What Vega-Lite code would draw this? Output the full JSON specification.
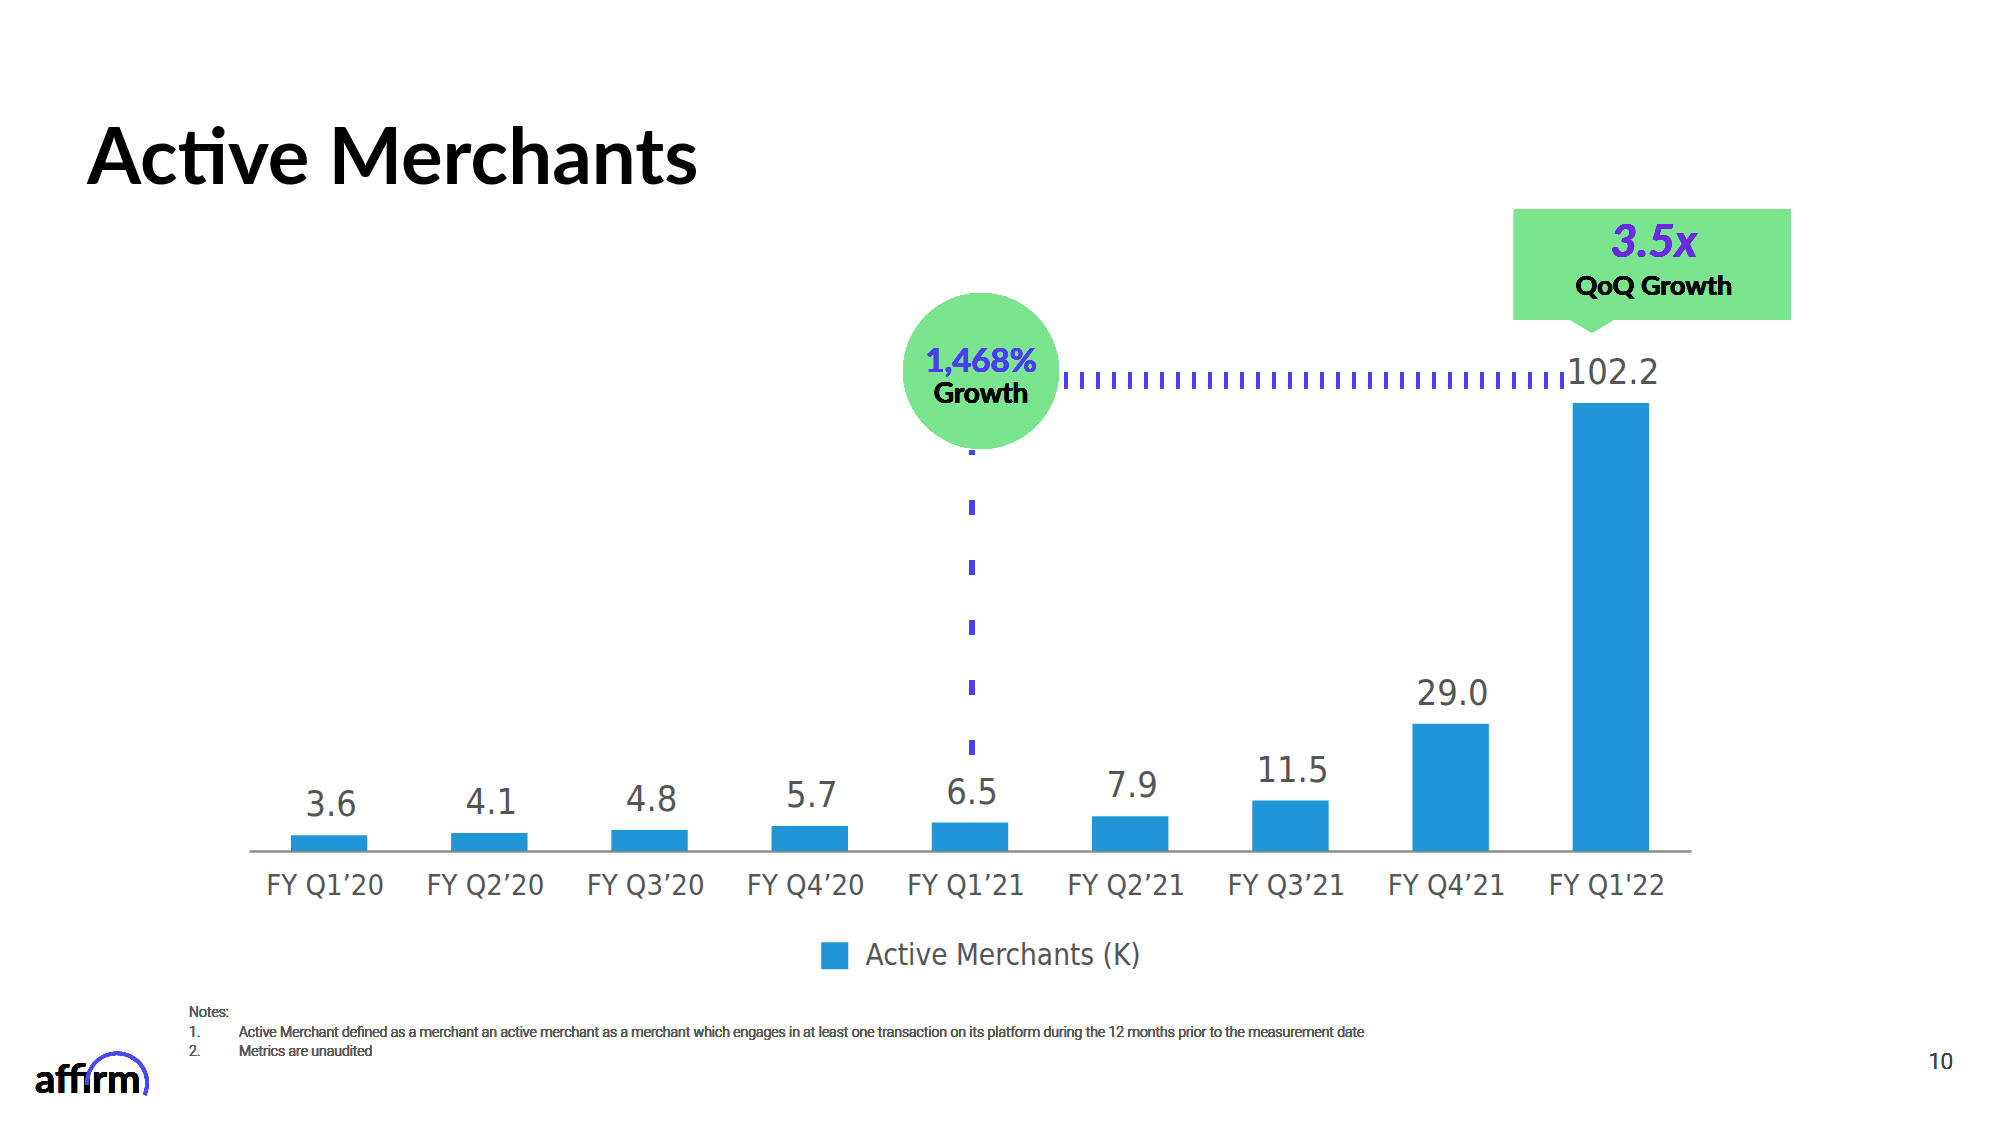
{
  "$schema": "https://vega.github.io/schema/vega-lite/v6.json",
  "width": 1442,
  "height": 651,
  "autosize": {"type": "none"},
  "padding": {"left": 249, "right": 309, "top": 200, "bottom": 274},
  "background": "#ffffff",
  "config": {"view": {"stroke": null}},
  "title": {
    "text": "Active Merchants",
    "anchor": "start",
    "frame": "group",
    "orient": "top",
    "dx": -162,
    "offset": -62,
    "baseline": "alphabetic",
    "font": "Lato",
    "fontSize": 78,
    "fontWeight": "bold",
    "color": "#000000"
  },
  "data": {
    "values": [
      {"quarter": "FY Q1’20", "merchants": 3.6},
      {"quarter": "FY Q2’20", "merchants": 4.1},
      {"quarter": "FY Q3’20", "merchants": 4.8},
      {"quarter": "FY Q4’20", "merchants": 5.7},
      {"quarter": "FY Q1’21", "merchants": 6.5},
      {"quarter": "FY Q2’21", "merchants": 7.9},
      {"quarter": "FY Q3’21", "merchants": 11.5},
      {"quarter": "FY Q4’21", "merchants": 29.0},
      {"quarter": "FY Q1'22", "merchants": 102.2}
    ]
  },
  "encoding": {
    "x": {
      "field": "quarter",
      "type": "nominal",
      "sort": null,
      "scale": {"paddingInner": 0.523, "paddingOuter": 0.2615},
      "axis": {
        "title": null,
        "labelAngle": 0,
        "ticks": false,
        "labelFont": "DejaVu Sans Condensed",
        "labelFontSize": 29,
        "labelColor": "#555555",
        "labelPadding": 20,
        "labelOffset": -4,
        "domainColor": "#8c8c8c",
        "domainWidth": 2.5,
        "grid": false
      }
    },
    "y": {
      "type": "quantitative",
      "scale": {"domain": [0, 148.5], "nice": false, "zero": false},
      "axis": null
    }
  },
  "layer": [
    {
      "mark": {"type": "bar"},
      "encoding": {
        "y": {"field": "merchants", "type": "quantitative"},
        "color": {
          "datum": "Active Merchants (K)",
          "type": "nominal",
          "scale": {"range": ["#2196d6"]},
          "legend": {
            "title": null,
            "orient": "none",
            "legendX": 571,
            "legendY": 741,
            "padding": 0,
            "symbolType": "square",
            "symbolSize": 729,
            "symbolStrokeWidth": 0,
            "labelFont": "DejaVu Sans Condensed",
            "labelFontSize": 29.5,
            "labelColor": "#555555",
            "labelOffset": 16,
            "labelLimit": 0
          }
        }
      }
    },
    {
      "mark": {"type": "text", "dy": -19, "dx": 2, "baseline": "alphabetic", "font": "DejaVu Sans Condensed", "fontSize": 36, "color": "#555555"},
      "encoding": {
        "y": {"field": "merchants", "type": "quantitative"},
        "text": {"field": "merchants", "type": "quantitative", "format": ".1f"}
      }
    },
    {
      "mark": {"type": "rule", "stroke": "#4b3ff2", "strokeWidth": 5, "strokeDash": [15, 45], "xOffset": 2},
      "encoding": {
        "x": {"datum": "FY Q1’21"},
        "y": {"datum": 21.9},
        "y2": {"datum": 91.5}
      }
    },
    {
      "mark": {"type": "rule", "stroke": "#4b3ff2", "strokeWidth": 16, "strokeDash": [4, 12], "xOffset": 94, "x2Offset": -38},
      "encoding": {
        "x": {"datum": "FY Q1’21"},
        "x2": {"datum": "FY Q1'22"},
        "y": {"datum": 107.4}
      }
    },
    {
      "mark": {"type": "point", "shape": "circle", "filled": true, "fill": "#7ae58e", "opacity": 1, "size": 24300, "strokeWidth": 0, "xOffset": 11},
      "encoding": {
        "x": {"datum": "FY Q1’21"},
        "y": {"datum": 109.5}
      }
    },
    {
      "mark": {"type": "text", "text": "1,468%", "font": "Lato", "fontWeight": "bold", "fontSize": 33, "color": "#4a3ff0", "baseline": "alphabetic", "dx": 11},
      "encoding": {
        "x": {"datum": "FY Q1’21"},
        "y": {"datum": 109.3}
      }
    },
    {
      "mark": {"type": "text", "text": "Growth", "font": "Lato", "fontWeight": "bold", "fontSize": 28, "color": "#000000", "baseline": "alphabetic", "dx": 11},
      "encoding": {
        "x": {"datum": "FY Q1’21"},
        "y": {"datum": 102.2}
      }
    },
    {
      "mark": {"type": "bar", "width": 277, "xOffset": 41.5, "color": "#7ae58e"},
      "encoding": {
        "x": {"datum": "FY Q1'22"},
        "y": {"datum": 146.4},
        "y2": {"datum": 121.1}
      }
    },
    {
      "mark": {"type": "point", "shape": "M-1,-0.6L1,-0.6L0,0Z", "filled": true, "fill": "#7ae58e", "opacity": 1, "size": 4900, "strokeWidth": 0, "xOffset": -19},
      "encoding": {
        "x": {"datum": "FY Q1'22"},
        "y": {"datum": 118.2}
      }
    },
    {
      "mark": {"type": "text", "text": "3.5x", "font": "Lato", "fontWeight": "bold", "fontStyle": "italic", "fontSize": 46, "color": "#6a2be0", "baseline": "alphabetic", "dx": 43},
      "encoding": {
        "x": {"datum": "FY Q1'22"},
        "y": {"datum": 135.6}
      }
    },
    {
      "mark": {"type": "text", "text": "QoQ Growth", "font": "Lato", "fontWeight": "bold", "fontSize": 27, "color": "#000000", "baseline": "alphabetic", "dx": 43},
      "encoding": {
        "x": {"datum": "FY Q1'22"},
        "y": {"datum": 126.9}
      }
    },
    {
      "mark": {"type": "text", "text": "Notes:", "font": "Roboto", "fontWeight": 300, "fontSize": 14, "color": "#595959", "align": "left", "baseline": "alphabetic", "dx": -140},
      "encoding": {
        "x": {"datum": "FY Q1’20"},
        "y": {"datum": -37.9}
      }
    },
    {
      "mark": {"type": "text", "text": "1.", "font": "Roboto", "fontWeight": 300, "fontSize": 14, "color": "#595959", "align": "left", "baseline": "alphabetic", "dx": -140},
      "encoding": {
        "x": {"datum": "FY Q1’20"},
        "y": {"datum": -42.4}
      }
    },
    {
      "mark": {"type": "text", "text": "Active Merchant defined as a merchant an active merchant as a merchant which engages in at least one transaction on its platform during the 12 months prior to the measurement date", "font": "Roboto", "fontWeight": 300, "fontSize": 14, "color": "#595959", "align": "left", "baseline": "alphabetic", "dx": -90},
      "encoding": {
        "x": {"datum": "FY Q1’20"},
        "y": {"datum": -42.4}
      }
    },
    {
      "mark": {"type": "text", "text": "2.", "font": "Roboto", "fontWeight": 300, "fontSize": 14, "color": "#595959", "align": "left", "baseline": "alphabetic", "dx": -140},
      "encoding": {
        "x": {"datum": "FY Q1’20"},
        "y": {"datum": -46.8}
      }
    },
    {
      "mark": {"type": "text", "text": "Metrics are unaudited", "font": "Roboto", "fontWeight": 300, "fontSize": 14, "color": "#595959", "align": "left", "baseline": "alphabetic", "dx": -90},
      "encoding": {
        "x": {"datum": "FY Q1’20"},
        "y": {"datum": -46.8}
      }
    },
    {
      "mark": {"type": "text", "text": "10", "font": "Roboto", "fontWeight": 300, "fontSize": 22, "color": "#444444", "align": "right", "baseline": "alphabetic", "dx": 342},
      "encoding": {
        "x": {"datum": "FY Q1'22"},
        "y": {"datum": -49.7}
      }
    },
    {
      "mark": {"type": "text", "text": "affirm", "font": "Lato", "fontWeight": "bold", "fontSize": 40, "letterSpacing": 1.5, "color": "#000000", "align": "left", "baseline": "alphabetic", "dx": -294},
      "encoding": {
        "x": {"datum": "FY Q1’20"},
        "y": {"datum": -55.2}
      }
    },
    {
      "mark": {"type": "point", "shape": "M-1,0.05A1,1 0 1 1 0.92,0.4", "filled": false, "stroke": "#4a4af4", "strokeWidth": 3.5, "opacity": 1, "size": 3600, "xOffset": -212},
      "encoding": {
        "x": {"datum": "FY Q1’20"},
        "y": {"datum": -52.9}
      }
    }
  ]
}
